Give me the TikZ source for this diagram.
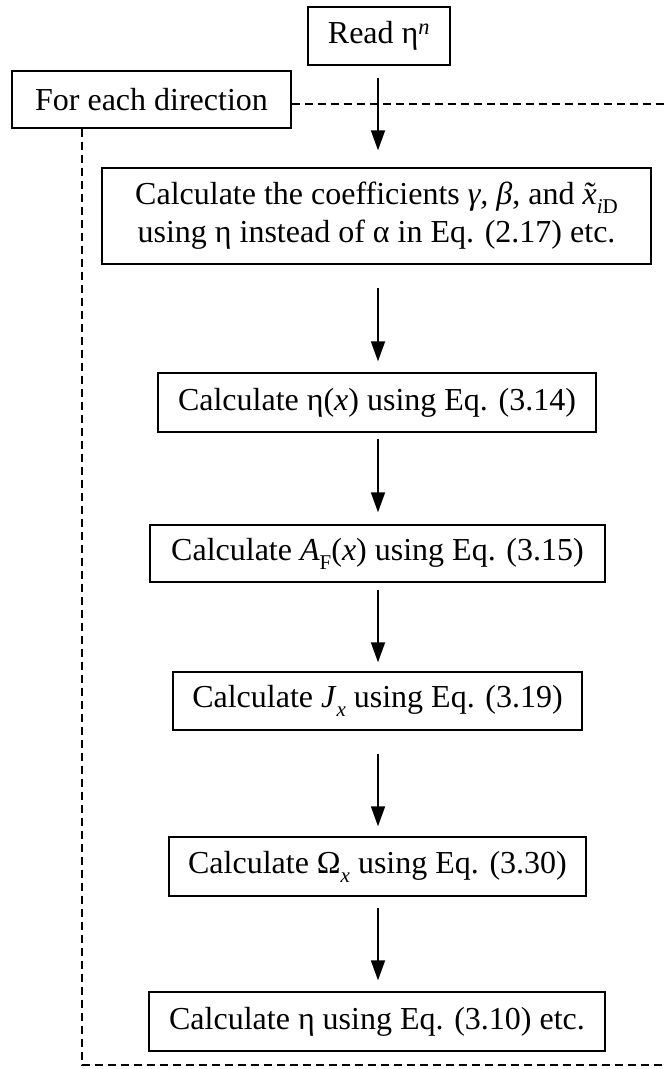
\documentclass[tikz,border=0pt]{standalone}
\usepackage{fontspec}
\setmainfont{Liberation Serif}
\usetikzlibrary{arrows.meta}
\newcommand{\xtil}{\textit{x}\llap{\textit{\char"02DC}\kern0.04em}}
\newcommand{\lowsub}[1]{\raisebox{-0.28em}{\fontsize{21}{21}\selectfont #1}}
\begin{document}
\begin{tikzpicture}[x=1pt,y=-1pt,
  box/.style={draw,line width=1.4pt,inner sep=0pt,align=center,
    font=\fontsize{32}{38}\selectfont},
  flow/.style={line width=1.8pt,-{Triangle[length=20pt,width=14pt]}},
  loop/.style={line width=1.2pt,dash pattern=on 8pt off 5pt}]
\useasboundingbox (0,0) rectangle (664,1069);
\node[box,minimum width=142pt,minimum height=58pt] (read) at (379,36) {Read η\textsuperscript{\itshape n}};
\node[box,minimum width=279pt,minimum height=57pt] (each) at (151.5,99.5) {For each direction};
\node[box,minimum width=549pt,minimum height=96pt] (coef) at (376.5,216)
  {Calculate the coefficients \textit{γ, β}, and \xtil\lowsub{\textit{i}D}\\using η instead of α in Eq. (2.17) etc.};
\node[box,minimum width=438pt,minimum height=59pt] (eta) at (377,402.5) {Calculate η(\textit{x}) using Eq. (3.14)};
\node[box,minimum width=455pt,minimum height=57pt] (af) at (377.5,553.5) {Calculate \textit{A}\lowsub{F}(\textit{x}) using Eq. (3.15)};
\node[box,minimum width=409pt,minimum height=58pt] (jx) at (377.5,701) {Calculate \textit{J}\lowsub{\textit{x}} using Eq. (3.19)};
\node[box,minimum width=417pt,minimum height=59pt] (om) at (377.5,866.5) {Calculate Ω\lowsub{\textit{x}} using Eq. (3.30)};
\node[box,minimum width=456pt,minimum height=59pt] (last) at (377,1021.5) {Calculate η using Eq. (3.10) etc.};
% dashed loop frame
\coordinate (tr) at (664,104);
\coordinate (bl) at (82,1065);
\coordinate (br) at (664,1065);
\draw[loop] (each.east |- tr) -- (tr);
\draw[loop] (each.south -| bl) -- (bl) -- (br);
% flow arrows
\draw[flow,shorten <=12pt,shorten >=17pt] (read.south -| 378,0) -- (coef.north -| 378,0);
\draw[flow,shorten <=23pt,shorten >=11pt] (coef.south -| 378,0) -- (eta.north -| 378,0);
\draw[flow,shorten <=6pt,shorten >=12pt] (eta.south -| 378,0) -- (af.north -| 378,0);
\draw[flow,shorten <=7pt,shorten >=9pt] (af.south -| 378,0) -- (jx.north -| 378,0);
\draw[flow,shorten <=23pt,shorten >=10pt] (jx.south -| 378,0) -- (om.north -| 378,0);
\draw[flow,shorten <=11pt,shorten >=11pt] (om.south -| 378,0) -- (last.north -| 378,0);
\end{tikzpicture}
\end{document}
